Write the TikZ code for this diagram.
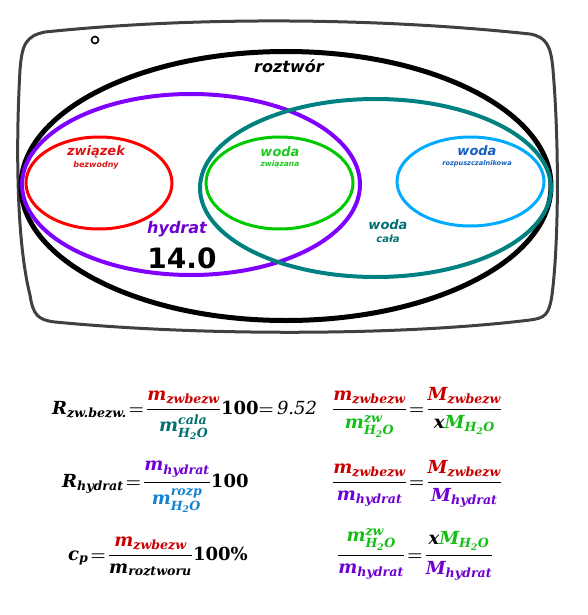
\documentclass[tikz,border=0pt]{standalone}
\usepackage{amsmath}
\usepackage{xcolor}
\usepackage{fontspec}
\usepackage{tikz}
\usetikzlibrary{shapes.geometric}
\newfontfamily\labelfont{DejaVu Sans}
\newfontfamily\eqfont{DejaVu Serif}

\definecolor{zwred}{RGB}{200,0,0}
\definecolor{hydpurple}{RGB}{110,0,210}
\definecolor{calateal}{RGB}{0,112,112}
\definecolor{zwgreen}{RGB}{20,190,20}
\definecolor{rozpblue}{RGB}{20,130,210}
\definecolor{rozpdark}{RGB}{20,95,190}
\definecolor{setpurple}{RGB}{128,0,255}
\definecolor{setteal}{RGB}{0,128,128}
\definecolor{setgreen}{RGB}{0,200,0}
\definecolor{setblue}{RGB}{0,170,255}
\definecolor{lblred}{RGB}{220,20,20}
\definecolor{lblgreen}{RGB}{30,200,30}

% formula pieces
\newcommand{\ev}[1]{\text{\eqfont\bfseries\itshape #1}}
\newcommand{\eu}[1]{\text{\eqfont\bfseries #1}}
\newcommand{\fr}[2]{\genfrac{}{}{1.6pt}{0}{#1}{#2}}
\newcommand{\water}{\ev{H}_{\ev{2}}\ev{O}}
\newcommand{\mzw}{{\color{zwred}\ev{m}_{\ev{zwbezw}}}}
\newcommand{\Mzw}{{\color{zwred}\ev{M}_{\ev{zwbezw}}}}
\newcommand{\mhyd}{{\color{hydpurple}\ev{m}_{\ev{hydrat}}}}
\newcommand{\Mhyd}{{\color{hydpurple}\ev{M}_{\ev{hydrat}}}}
\newcommand{\mwzw}{{\color{zwgreen}\ev{m}^{\ev{zw}}_{\water}}}
\newcommand{\mcala}{{\color{calateal}\ev{m}^{\ev{cala}}_{\water}}}
\newcommand{\mrozp}{{\color{rozpblue}\ev{m}^{\ev{rozp}}_{\water}}}
\newcommand{\Mw}{{\color{zwgreen}\ev{M}_{\water}}}
\newcommand{\eqbox}[1]{{\boldmath\thickmuskip=2mu$\displaystyle #1$}}

\begin{document}
\begin{tikzpicture}[x=1pt,y=-1pt,
	setshape/.style={shape=ellipse,inner sep=0pt},
	bigtext/.style={font=\labelfont\bfseries\itshape\fontsize{16}{16}\selectfont,inner sep=0pt},
	midtext/.style={font=\labelfont\bfseries\itshape\fontsize{13}{13}\selectfont,inner sep=0pt},
	tinytext/.style={font=\labelfont\bfseries\itshape\fontsize{7.5}{7.5}\selectfont,inner sep=0pt},
	eqtext/.style={anchor=base west,inner sep=0pt,font=\fontsize{18}{21}\selectfont}]
	\useasboundingbox (0,0) rectangle (587,615);

	%% frame
	\draw[line width=3pt, black!75] (20,70) .. controls (22,44) and (26,36) .. (45,32)
		.. controls (200,16) and (380,18) .. (530,34)
		.. controls (546,37) and (551,45) .. (553,70)
		.. controls (559,140) and (559,240) .. (552,295)
		.. controls (549,315) and (545,318) .. (530,320)
		.. controls (400,336) and (200,336) .. (55,322)
		.. controls (38,320) and (33,315) .. (30,295)
		.. controls (16,240) and (16,140) .. cycle;
	\node[shape=circle,draw=black,line width=1.6pt,inner sep=0pt,minimum size=7pt] (dot) at (95,40) {};

	%% sets
	\node[setshape,draw=black,line width=5pt,minimum width=530pt,minimum height=269pt] (roztwor) at (286,186) {};
	\node[setshape,draw=setpurple,line width=4pt,minimum width=338pt,minimum height=181pt] (hydrat) at (191,184.5) {};
	\node[setshape,draw=setteal,line width=4pt,minimum width=351pt,minimum height=178pt] (cala) at (375.5,188) {};
	\node[setshape,draw=red,line width=3pt,minimum width=146pt,minimum height=92pt] (bezw) at (99,183) {};
	\node[setshape,draw=setgreen,line width=3pt,minimum width=147pt,minimum height=92pt] (zwiazana) at (279.5,183) {};
	\node[setshape,draw=setblue,line width=3pt,minimum width=147pt,minimum height=89pt] (rozp) at (470.5,181.5) {};

	%% labels
	\node[bigtext] (troztwor) at (289,66) {roztwór};
	\node[midtext,text=lblred] (tbezw) at (96,152) {związek};
	\node[tinytext,text=lblred,font=\labelfont\bfseries\itshape\fontsize{8}{8}\selectfont] (tbezw2) at (96,165) {bezwodny};
	\node[midtext,text=lblgreen] (tzw) at (280,152) {woda};
	\node[tinytext,text=lblgreen] (tzw2) at (280,164) {związana};
	\node[midtext,text=rozpdark] (trozp) at (477,151) {woda};
	\node[tinytext,text=rozpdark,font=\labelfont\bfseries\itshape\fontsize{6.6}{6.6}\selectfont] (trozp2) at (477,164) {rozpuszczalnikowa};
	\node[bigtext,text=hydpurple] (thydrat) at (177,229) {hydrat};
	\node[inner sep=0pt,font=\labelfont\bfseries\fontsize{28}{28}\selectfont] (val) at (182,258) {14.0};
	\node[midtext,text=calateal] (tcala) at (388,225) {woda};
	\node[midtext,text=calateal,font=\labelfont\bfseries\itshape\fontsize{10}{10}\selectfont] (tcala2) at (388,239) {cała};

	%% formulas
	\node[eqtext] (f1) at (52,414) {\eqbox{\ev{R}_{\ev{zw.bezw.}}=\fr{\mzw}{\mcala}\eu{100}{=}\,\text{\eqfont\itshape 9.52}}};
	\node[eqtext] (f2) at (332,414) {\eqbox{\fr{\mzw}{\mwzw}=\fr{\Mzw}{\ev{x}\Mw}}};
	\node[eqtext] (f3) at (62,487) {\eqbox{\ev{R}_{\ev{hydrat}}=\fr{\mhyd}{\mrozp}\eu{100}}};
	\node[eqtext] (f4) at (332,487) {\eqbox{\fr{\mzw}{\mhyd}=\fr{\Mzw}{\Mhyd}}};
	\node[eqtext] (f5) at (68,560) {\eqbox{\ev{c}_{\ev{p}}=\fr{\mzw}{\ev{m}_{\ev{roztworu}}}\eu{100\%}}};
	\node[eqtext] (f6) at (337,560) {\eqbox{\fr{\mwzw}{\mhyd}=\fr{\ev{x}\Mw}{\Mhyd}}};
\end{tikzpicture}
\end{document}
